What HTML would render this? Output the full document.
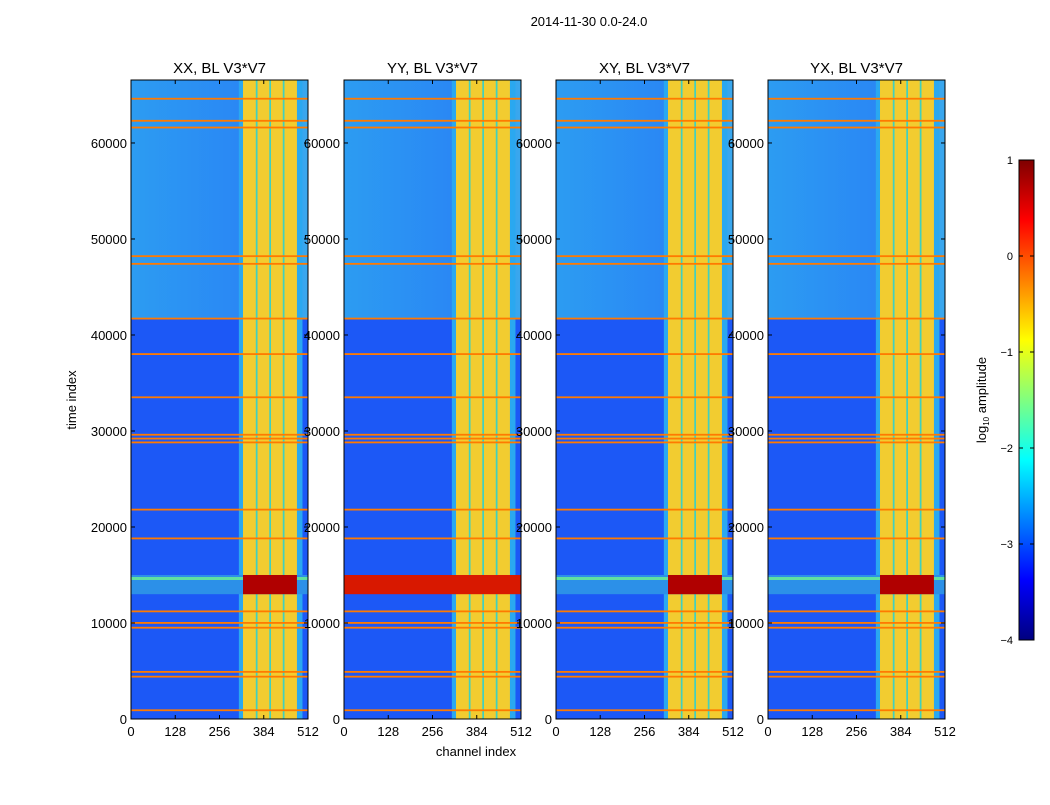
<!DOCTYPE html>
<html><head><meta charset="utf-8">
<style>
body{margin:0;background:#fff;width:1050px;height:800px;overflow:hidden;font-family:"Liberation Sans",sans-serif}
svg text{font-family:"Liberation Sans",sans-serif}
</style></head>
<body>
<svg id="chart" width="1050" height="800" xmlns="http://www.w3.org/2000/svg">
<defs>
<linearGradient id="jet" x1="0" y1="1" x2="0" y2="0">
<stop offset="0" stop-color="#00007f"/><stop offset="0.125" stop-color="#0000ff"/>
<stop offset="0.375" stop-color="#00ffff"/><stop offset="0.5" stop-color="#80ff80"/>
<stop offset="0.625" stop-color="#ffff00"/><stop offset="0.875" stop-color="#ff0000"/>
<stop offset="1" stop-color="#7f0000"/></linearGradient>
<linearGradient id="topg" x1="0" y1="0" x2="1" y2="0">
<stop offset="0" stop-color="#2c9cf2"/><stop offset="0.6" stop-color="#2a88f4"/><stop offset="1" stop-color="#3aa8ee"/></linearGradient>
</defs>
<text x="589" y="26" font-size="13" text-anchor="middle">2014-11-30 0.0-24.0</text>
<g id="panels"></g>
<text x="476" y="756" font-size="13" text-anchor="middle">channel index</text>
<text transform="translate(76,400) rotate(-90)" font-size="13" text-anchor="middle">time index</text>
<g>
<rect x="1019" y="160" width="15" height="480" fill="url(#jet)" stroke="#000" stroke-width="1"/>
<g id="cbticks"></g>
<text transform="translate(986,400) rotate(-90)" font-size="13" text-anchor="middle">log<tspan font-size="8" dy="3">10</tspan><tspan dy="-3"> amplitude</tspan></text>
</g>
</svg>
<script>
const panelTitles = ["XX, BL V3*V7","YY, BL V3*V7","XY, BL V3*V7","YX, BL V3*V7"];
const panelLefts = [131,344,556,768];
const xTicks = [0,128,256,384,512];
const yTicks = [0,10000,20000,30000,40000,50000,60000];
const rfiTimes = [900,4400,4900,9500,10000,11200,13800,18800,21800,28800,29200,29600,33500,38000,41700,47400,48200,61600,62300,64600];
const bandStart = 324, bandEnd = 480;
const bandGaps = [363,402,441];
const strongRfi = [[13000,15000]];
const cbTicks = [1,0,-1,-2,-3,-4];
const T_MAX = 66560, C_MAX = 512;
const W = 177, TOP = 80, BOT = 719;
const NS = "http://www.w3.org/2000/svg";
function yS(t){return BOT - t/T_MAX*(BOT-TOP);}
function mk(tag, attrs, parent){const e=document.createElementNS(NS,tag);for(const k in attrs)e.setAttribute(k,attrs[k]);parent.appendChild(e);return e;}
const root = document.getElementById('panels');
panelLefts.forEach((L,pi)=>{
  const xS = c => L + c/C_MAX*W;
  const g = mk('g',{},root);
  
  
  const bg = mk('rect',{x:L,y:TOP,width:W,height:BOT-TOP,fill:'#1c58f6'},g);
  
  
  const top = mk('rect',{x:L,y:yS(T_MAX),width:W,height:yS(41700)-yS(T_MAX),fill:'url(#topg)'},g);
  
  
  const edge = mk('rect',{x:xS(bandStart-12),y:TOP,width:xS(bandEnd+16)-xS(bandStart-12),height:BOT-TOP,fill:'#2aa8f0'},g);
  
  
  const band = mk('rect',{x:xS(bandStart),y:TOP,width:xS(bandEnd)-xS(bandStart),height:BOT-TOP,fill:'#f2cc30'},g);
  
  
  bandGaps.forEach(c=>{
    const r = mk('rect',{x:xS(c-2),y:TOP,width:xS(c+3)-xS(c-2),height:BOT-TOP,fill:'#40d0c0'},g);
    
    
  });
  rfiTimes.forEach(t=>{
    const r = mk('rect',{x:L,y:yS(t)-1,width:W,height:1.8,fill:'#ff7a00'},g);
    
    
  });
  strongRfi.forEach(([a,b])=>{
    if(pi!==1){
      const h = mk('rect',{x:L,y:yS(b),width:W,height:yS(a)-yS(b),fill:'#2c90e8'},g);
      
      
      const h2 = mk('rect',{x:L,y:yS(b)+2,width:W,height:3,fill:'#60e0a0'},g);
      
      
    }
    const x0 = pi===1 ? L : xS(bandStart);
    const r = mk('rect',{x:x0,y:yS(b),width:(pi===1?L+W:xS(bandEnd))-x0,height:yS(a)-yS(b),fill:pi===1?'#d81800':'#b00000'},g);
    
    
  });
  const fr = mk('rect',{x:L,y:TOP,width:W,height:BOT-TOP,fill:'none',stroke:'#000','stroke-width':1},g);
  
  
  const tt = mk('text',{x:L+W/2,y:73,'font-size':15,'text-anchor':'middle'},g);
  tt.textContent = panelTitles[pi];
  
  
  xTicks.forEach(v=>{
    const x = xS(v);
    mk('line',{x1:x,x2:x,y1:BOT,y2:BOT-4,stroke:'#000'},g);
    mk('line',{x1:x,x2:x,y1:TOP,y2:TOP+4,stroke:'#000'},g);
    const t = mk('text',{x:x,y:BOT+17,'font-size':13,'text-anchor':'middle'},g);
    t.textContent = v;
    
    
  });
  yTicks.forEach(v=>{
    const y = yS(v);
    mk('line',{x1:L,x2:L+4,y1:y,y2:y,stroke:'#000'},g);
    mk('line',{x1:L+W,x2:L+W-4,y1:y,y2:y,stroke:'#000'},g);
    const t = mk('text',{x:L-4,y:y+5,'font-size':13,'text-anchor':'end'},g);
    t.textContent = v;
    
    
  });
});
const cb = document.getElementById('cbticks');
cbTicks.forEach(v=>{
  const y = 640 - (v+4)/5*480;
  mk('line',{x1:1019,x2:1023,y1:y,y2:y,stroke:'#000'},cb);
  mk('line',{x1:1030,x2:1034,y1:y,y2:y,stroke:'#000'},cb);
  const t = mk('text',{x:1013,y:y+4,'font-size':11,'text-anchor':'end'},cb);
  t.textContent = v<0 ? '\u2212'+(-v) : v;
  
  
});
</script>
</body></html>
